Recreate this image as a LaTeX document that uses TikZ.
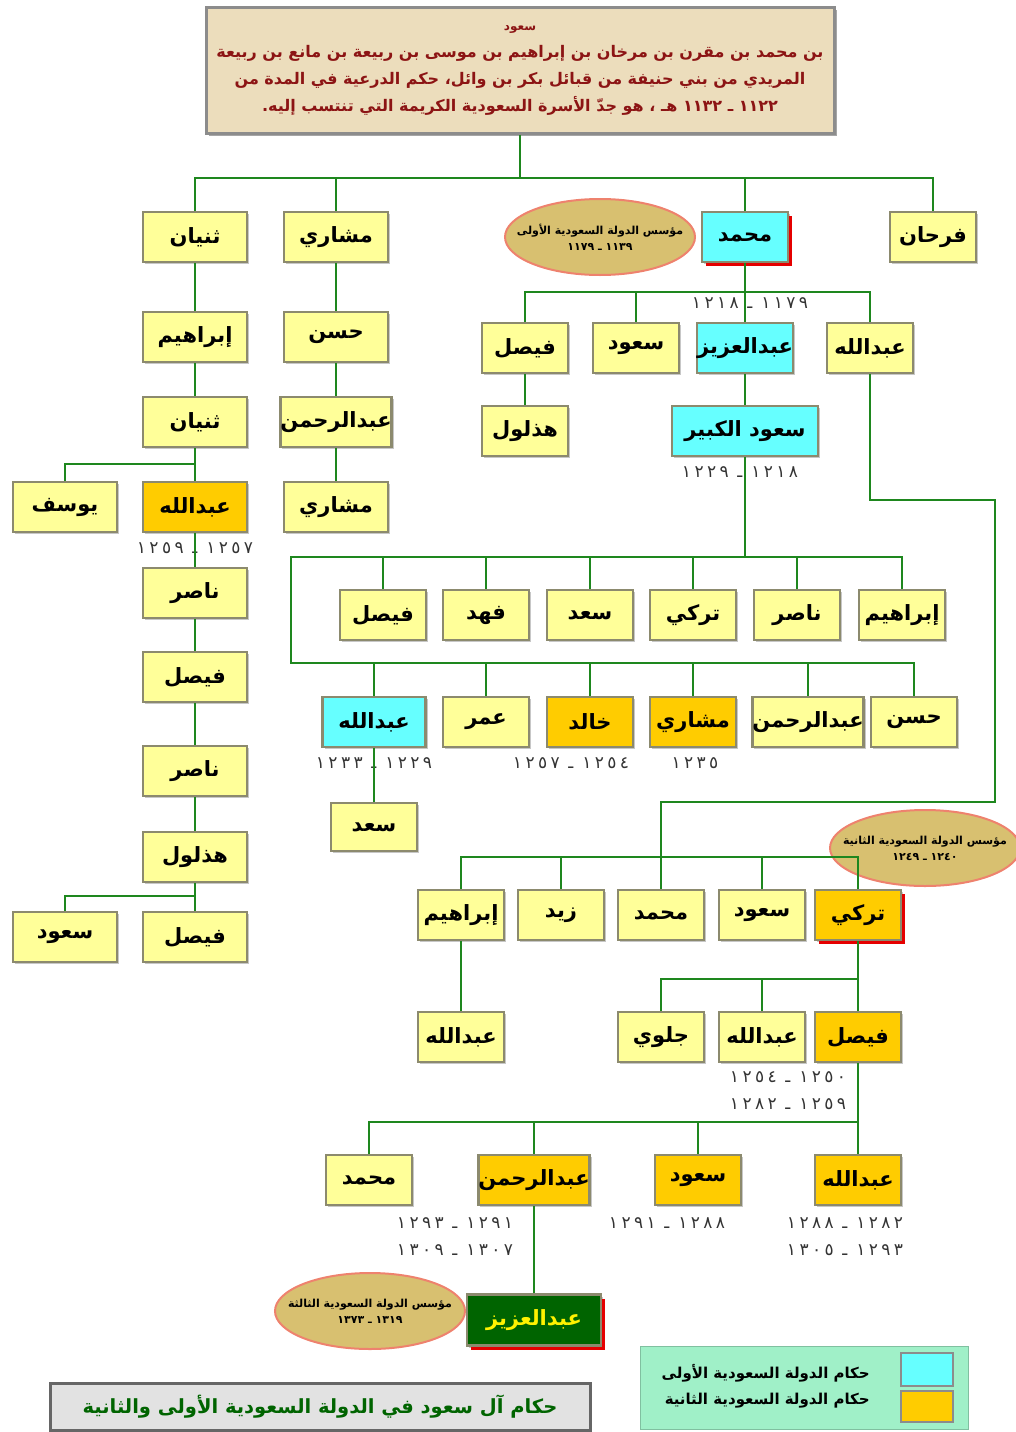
\documentclass[tikz,border=0pt]{standalone}
\usepackage{fontspec}
\usepackage{tikz}
\usetikzlibrary{shapes.geometric,shadows}
\TeXXeTstate=1
\newfontfamily\arabicfont[Script=Arabic]{DejaVu Sans}
\newfontfamily\yearfont[Script=Arabic,LetterSpace=20]{DejaVu Sans}
\newcommand{\artext}[1]{\beginR #1\endR}
\definecolor{boxyellow}{RGB}{255,255,153}
\definecolor{boxcyan}{RGB}{102,255,255}
\definecolor{boxgold}{RGB}{255,204,0}
\definecolor{boxedge}{RGB}{140,138,110}
\definecolor{treegreen}{RGB}{30,135,30}
\definecolor{ovalfill}{RGB}{216,192,112}
\definecolor{ovaledge}{RGB}{238,130,110}
\definecolor{parchment}{RGB}{236,221,188}
\definecolor{inkred}{RGB}{140,20,20}
\definecolor{legendmint}{RGB}{160,240,200}
\definecolor{kinggreen}{RGB}{0,100,0}
\definecolor{marble}{RGB}{226,226,226}
\tikzset{
  member/.style={draw=boxedge, line width=2.5pt, fill=boxyellow, minimum width=86pt,
    minimum height=50pt, inner sep=0pt,
    font=\arabicfont\bfseries\fontsize{21}{24}\selectfont,
    drop shadow={shadow xshift=2pt, shadow yshift=-2pt, fill=black!22, opacity=1}},
  wide/.style={minimum width=104pt},
  firststate/.style={member, fill=boxcyan},
  secondstate/.style={member, fill=boxgold},
  redshade/.style={drop shadow={shadow xshift=4pt, shadow yshift=-4pt, fill=red!90!black, opacity=1}},
  founder/.style={ellipse, draw=ovaledge, line width=2pt, fill=ovalfill, minimum width=190pt,
    minimum height=76pt, inner xsep=-17pt, inner ysep=0pt, align=center,
    font=\arabicfont\bfseries\fontsize{11}{16}\selectfont},
  reign/.style={inner sep=0pt, align=center, text=black!80,
    font=\yearfont\fontsize{17}{27}\selectfont},
  link/.style={draw=treegreen, line width=2.5pt}
}
\begin{document}
\begin{tikzpicture}[x=1pt,y=-1pt]
\useasboundingbox (0,0) rectangle (1016,1432);

% heading
\node[draw=black!45, line width=3pt, fill=parchment, text=inkred, minimum width=628pt,
  minimum height=126pt, align=center, font=\arabicfont\bfseries\fontsize{16}{27}\selectfont,
  drop shadow={shadow xshift=3pt, shadow yshift=-3pt, fill=black!35, opacity=1}]
  (saud) at (520,70)
  {{\fontsize{12}{14}\selectfont\artext{سعود}}\\
   \artext{بن محمد بن مقرن بن مرخان بن إبراهيم بن موسى بن ربيعة بن مانع بن ربيعة}\\
   \artext{المريدي من بني حنيفة من قبائل بكر بن وائل، حكم الدرعية في المدة من}\\
   \artext{١١٢٢ ـ ١١٣٢ هـ ، هو جدّ الأسرة السعودية الكريمة التي تنتسب إليه.}};

% founders
\node[founder] (founderA) at (600,237) {\artext{مؤسس الدولة السعودية الأولى}\\ \artext{١١٣٩ ـ ١١٧٩}};
\node[founder] (founderB) at (925,848) {\artext{مؤسس الدولة السعودية الثانية}\\ \artext{١٢٤٠ ـ ١٢٤٩}};
\node[founder] (founderC) at (370,1311) {\artext{مؤسس الدولة السعودية الثالثة}\\ \artext{١٣١٩ ـ ١٣٧٣}};

% first generation
\node[member, wide] (thunayanA) at (195,237) {\artext{ثنيان}};
\node[member, wide] (mishariA) at (336,237) {\artext{مشاري}};
\node[firststate, redshade] (muhammad) at (745,237) {\artext{محمد}};
\node[member] (farhan) at (933,237) {\artext{فرحان}};

% line of Thunayan
\node[member, wide] (ibrahimL) at (195,337) {\artext{إبراهيم}};
\node[member, wide] (thunayanB) at (195,422) {\artext{ثنيان}};
\node[member, wide] (yusuf) at (65,507) {\artext{يوسف}};
\node[secondstate, wide] (abdL) at (195,507) {\artext{عبدالله}};
\node[reign] (dateAbdL) at (195,548) {\artext{١٢٥٧ ـ ١٢٥٩}};
\node[member, wide] (nasirL) at (195,593) {\artext{ناصر}};
\node[member, wide] (faisalL) at (195,677) {\artext{فيصل}};
\node[member, wide] (nasirL2) at (195,771) {\artext{ناصر}};
\node[member, wide] (hudhlulL) at (195,857) {\artext{هذلول}};
\node[member, wide] (saudL) at (65,937) {\artext{سعود}};
\node[member, wide] (faisalL2) at (195,937) {\artext{فيصل}};

% line of Mishari
\node[member, wide] (hasanA) at (336,337) {\artext{حسن}};
\node[member, wide] (abdrA) at (336,422) {\artext{عبدالرحمن}};
\node[member, wide] (mishariB) at (336,507) {\artext{مشاري}};

% sons of Muhammad
\node[member] (faisalM) at (525,348) {\artext{فيصل}};
\node[member] (saudM) at (636,348) {\artext{سعود}};
\node[firststate] (azizM) at (745,348) {\artext{عبدالعزيز}};
\node[member] (abdM) at (870,348) {\artext{عبدالله}};
\node[reign] (dateAziz) at (750,303) {\artext{١١٧٩ ـ ١٢١٨}};
\node[member] (hudhlulM) at (525,431) {\artext{هذلول}};
\node[firststate, minimum width=146pt] (saudK) at (745,431) {\artext{سعود الكبير}};
\node[reign] (dateSaudK) at (740,472) {\artext{١٢١٨ ـ ١٢٢٩}};

% sons of Saud al-Kabir
\node[member] (faisalA) at (383,615) {\artext{فيصل}};
\node[member] (fahdA) at (486,615) {\artext{فهد}};
\node[member] (saadA) at (590,615) {\artext{سعد}};
\node[member] (turkiA) at (693,615) {\artext{تركي}};
\node[member] (nasirA) at (797,615) {\artext{ناصر}};
\node[member] (ibrahimA) at (902,615) {\artext{إبراهيم}};
\node[firststate, minimum width=103pt] (abdB) at (374,722) {\artext{عبدالله}};
\node[member] (omarB) at (486,722) {\artext{عمر}};
\node[secondstate] (khalidB) at (590,722) {\artext{خالد}};
\node[secondstate] (mishariC) at (693,722) {\artext{مشاري}};
\node[member, minimum width=105pt] (abdrB) at (808,722) {\artext{عبدالرحمن}};
\node[member] (hasanB) at (914,722) {\artext{حسن}};
\node[reign] (dateAbdB) at (374,763) {\artext{١٢٢٩ ـ ١٢٣٣}};
\node[reign] (dateKhalid) at (571,763) {\artext{١٢٥٤ ـ ١٢٥٧}};
\node[reign] (dateMishari) at (695,763) {\artext{١٢٣٥}};
\node[member, minimum height=48pt] (saadB) at (374,827) {\artext{سعد}};

% sons of Abdullah
\node[member] (ibrahimC) at (461,915) {\artext{إبراهيم}};
\node[member] (zaidC) at (561,915) {\artext{زيد}};
\node[member] (muhC) at (661,915) {\artext{محمد}};
\node[member] (saudC) at (762,915) {\artext{سعود}};
\node[secondstate, redshade] (turkiC) at (858,915) {\artext{تركي}};
\node[member] (abdC) at (461,1037) {\artext{عبدالله}};
\node[member] (jiluwi) at (661,1037) {\artext{جلوي}};
\node[member] (abdD) at (762,1037) {\artext{عبدالله}};
\node[secondstate] (faisalD) at (858,1037) {\artext{فيصل}};
\node[reign] (dateFaisal) at (788,1091) {\artext{١٢٥٠ ـ ١٢٥٤}\\ \artext{١٢٥٩ ـ ١٢٨٢}};

% sons of Faisal
\node[member] (muhE) at (369,1180) {\artext{محمد}};
\node[secondstate, wide] (abdrE) at (534,1180) {\artext{عبدالرحمن}};
\node[secondstate] (saudE) at (698,1180) {\artext{سعود}};
\node[secondstate] (abdE) at (858,1180) {\artext{عبدالله}};
\node[reign] (dateAbdr) at (455,1237) {\artext{١٢٩١ ـ ١٢٩٣}\\ \artext{١٣٠٧ ـ ١٣٠٩}};
\node[reign] (dateSaudE) at (667,1223) {\artext{١٢٨٨ ـ ١٢٩١}};
\node[reign] (dateAbdE) at (845,1237) {\artext{١٢٨٢ ـ ١٢٨٨}\\ \artext{١٢٩٣ ـ ١٣٠٥}};
\node[member, redshade, fill=kinggreen, text=yellow, minimum width=134pt, minimum height=51pt]
  (azizE) at (534,1320) {\artext{عبدالعزيز}};

% connectors
\coordinate (busTop) at (0,178);
\draw[link] (thunayanA.north) |- (farhan.north |- busTop) -- (farhan.north);
\foreach \n in {mishariA,muhammad} \draw[link] (\n.north) -- (\n.north |- busTop);
\draw[link] (saud.south) -- (saud.south |- busTop);
\foreach \a/\b in {thunayanA/ibrahimL, ibrahimL/thunayanB, thunayanB/abdL, abdL/nasirL,
  nasirL/faisalL, faisalL/nasirL2, nasirL2/hudhlulL, hudhlulL/faisalL2,
  mishariA/hasanA, hasanA/abdrA, abdrA/mishariB}
  \draw[link] (\a) -- (\b);
\coordinate (busYusuf) at (0,464);
\draw[link] (yusuf.north) |- (abdL.north |- busYusuf);
\coordinate (busHudh) at (0,896);
\draw[link] (saudL.north) |- (faisalL2.north |- busHudh);

\coordinate (busM) at (0,292);
\draw[link] (faisalM.north) |- (abdM.north |- busM) -- (abdM.north);
\draw[link] (saudM.north) -- (saudM.north |- busM);
\draw[link] (muhammad) -- (azizM);
\draw[link] (faisalM) -- (hudhlulM);
\draw[link] (azizM) -- (saudK);

\coordinate (busA) at (291,557);
\coordinate (busB) at (291,663);
\draw[link] (ibrahimA.north) |- (busA) |- (hasanB.north |- busB) -- (hasanB.north);
\foreach \n in {faisalA,fahdA,saadA,turkiA,nasirA} \draw[link] (\n.north) -- (\n.north |- busA);
\foreach \n in {abdB,omarB,khalidB,mishariC,abdrB} \draw[link] (\n.north) -- (\n.north |- busB);
\draw[link] (saudK.south) -- (saudK.south |- busA);
\draw[link] (abdB) -- (saadB);

\coordinate (turnA) at (995,500);
\coordinate (turnB) at (661,802);
\draw[link] (abdM.south) |- (turnA) |- (turnB) -- (muhC.north);
\coordinate (busC) at (0,857);
\draw[link] (ibrahimC.north) |- (turkiC.north |- busC) -- (turkiC.north);
\foreach \n in {zaidC,saudC} \draw[link] (\n.north) -- (\n.north |- busC);
\draw[link] (ibrahimC) -- (abdC);
\draw[link] (turkiC) -- (faisalD);
\coordinate (busD) at (0,979);
\draw[link] (jiluwi.north) |- (faisalD.north |- busD);
\draw[link] (abdD.north) -- (abdD.north |- busD);
\draw[link] (faisalD) -- (abdE);
\coordinate (busE) at (0,1122);
\draw[link] (muhE.north) |- (abdE.north |- busE);
\foreach \n in {abdrE,saudE} \draw[link] (\n.north) -- (\n.north |- busE);
\draw[link] (abdrE) -- (azizE);

% title and key
\node[draw=black!60, line width=3pt, fill=marble, text=kinggreen, minimum width=540pt,
  minimum height=47pt, font=\arabicfont\bfseries\fontsize{19.5}{24}\selectfont]
  (title) at (320,1407) {\artext{حكام آل سعود في الدولة السعودية الأولى والثانية}};
\node[fill=legendmint, draw=legendmint!80!black, line width=1pt, minimum width=328pt,
  minimum height=83pt] (legend) at (804,1388) {};
\node[draw=black!45, line width=2pt, fill=boxcyan, minimum width=52pt, minimum height=33pt]
  (keyA) at (927,1369) {};
\node[draw=black!45, line width=2pt, fill=boxgold, minimum width=52pt, minimum height=31pt]
  (keyB) at (927,1406) {};
\node[anchor=east, inner sep=0pt, font=\arabicfont\bfseries\fontsize{15}{17}\selectfont]
  (keyAtext) at (870,1373) {\artext{حكام الدولة السعودية الأولى}};
\node[anchor=east, inner sep=0pt, font=\arabicfont\bfseries\fontsize{15}{17}\selectfont]
  (keyBtext) at (870,1401) {\artext{حكام الدولة السعودية الثانية}};
\end{tikzpicture}
\end{document}
